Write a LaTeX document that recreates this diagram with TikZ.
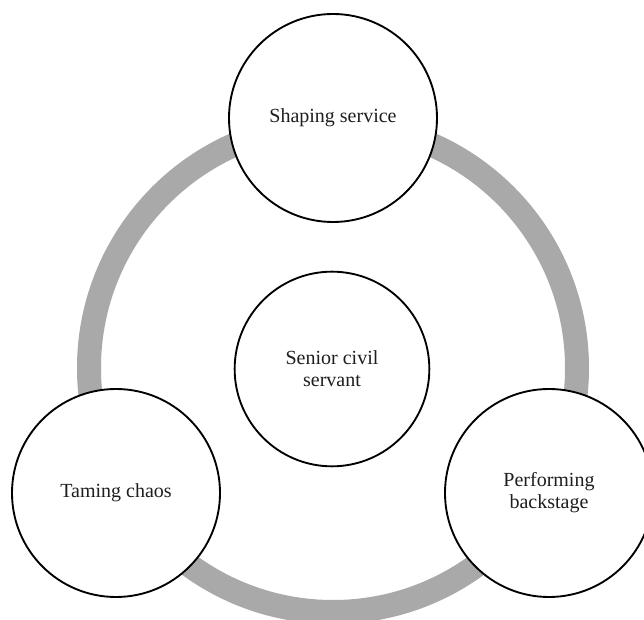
\documentclass[tikz,border=0pt]{standalone}
\usepackage{fontspec}
\setmainfont{Liberation Serif}
\definecolor{ringgray}{RGB}{169,169,169}
\definecolor{txt}{RGB}{30,30,30}
\begin{document}
\begin{tikzpicture}[x=0.75pt,y=-0.75pt,
  bubble/.style={circle,draw=black,line width=1.4pt,fill=white,
    minimum size=156pt,inner sep=0pt,align=center,text=txt,
    font=\fontsize{15pt}{16.5pt}\selectfont},
  hub/.style={bubble,minimum size=146pt}]
\useasboundingbox (0,0) rectangle (644,620);
% the grey ring behind the bubbles
\coordinate (c) at (333,368);
\draw[ringgray,line width=18pt] (c) circle[radius=244];
% centre and the three surrounding themes
\node[hub] (core) at (332,369) {Senior civil\\servant};
\node[bubble] (top) at (333,118) {Shaping service};
\node[bubble] (left) at (116,493) {Taming chaos};
\node[bubble] (right) at (549,493) {Performing\\backstage};
\end{tikzpicture}
\end{document}
